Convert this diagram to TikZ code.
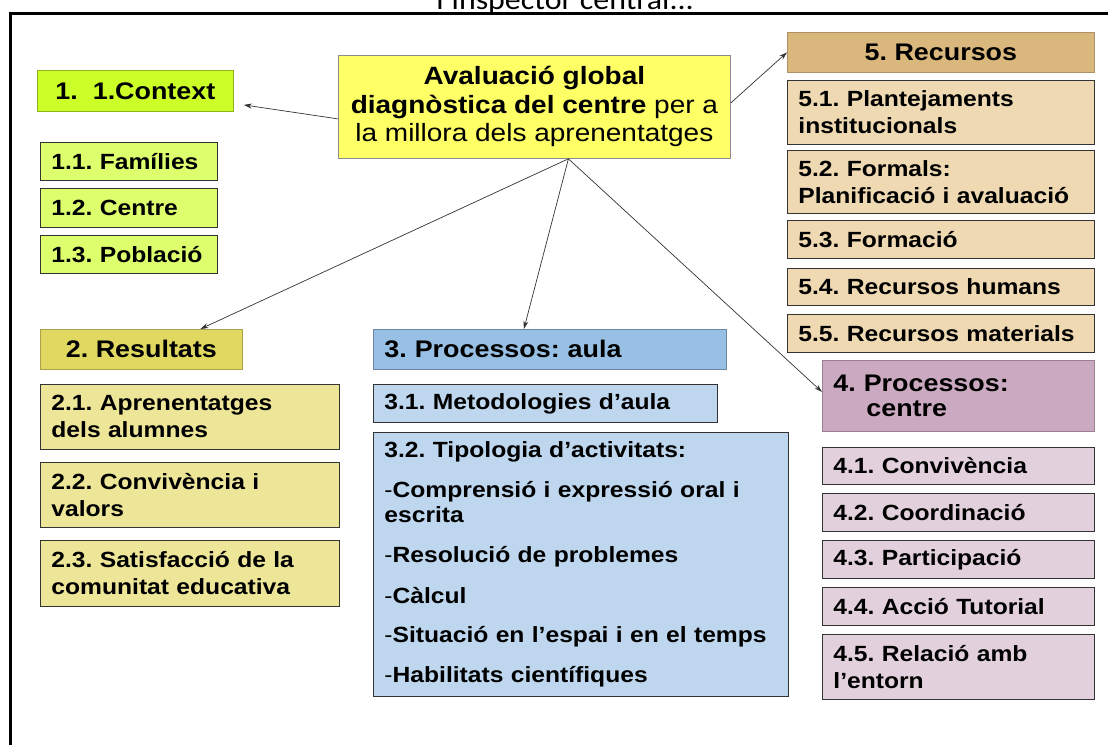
\documentclass[tikz,border=0pt]{standalone}
\usepackage{fontspec}
\setmainfont[FakeStretch=1.12]{Liberation Sans}
\newfontfamily\topfont[FakeStretch=1.1]{Carlito}
\usetikzlibrary{arrows.meta}
\frenchspacing

\definecolor{ctxhead}{RGB}{204,255,40}
\definecolor{ctxsub}{RGB}{221,255,110}
\definecolor{mainfill}{RGB}{255,255,102}
\definecolor{rechead}{RGB}{217,183,125}
\definecolor{recsub}{RGB}{238,217,178}
\definecolor{reshead}{RGB}{224,216,96}
\definecolor{ressub}{RGB}{237,230,152}
\definecolor{aulahead}{RGB}{152,192,228}
\definecolor{aulasub}{RGB}{190,215,238}
\definecolor{cenhead}{RGB}{203,170,193}
\definecolor{censub}{RGB}{226,209,220}

\tikzstyle{box}=[rectangle, anchor=north west, draw=black!80, line width=0.8pt
,inner xsep=11pt, inner ysep=0pt, align=left
,font=\bfseries\fontsize{22}{27}\selectfont
]
\tikzstyle{head box}=[box, align=center, font=\bfseries\fontsize{24}{27}\selectfont]
\tikzstyle{ctx box} = [box, fill=ctxsub, text width=155pt]
\tikzstyle{res box} = [box, fill=ressub, text width=277pt]
\tikzstyle{rec box} = [box, fill=recsub, text width=285pt]
\tikzstyle{cen box} = [box, fill=censub, text width=250pt]
\tikzstyle{aula box} = [box, fill=aulasub]
\tikzstyle{edge} = [draw, line width=0.7pt, black!80, -{Stealth[length=8pt,width=5pt]}]

\begin{document}
\begin{tikzpicture}[x=1pt,y=-1pt]
    \useasboundingbox (0,0) rectangle (1108,745);
    % frame and clipped title
    \begin{scope}
        \clip (0,0) rectangle (1108,12);
        \node[font=\topfont\fontsize{29}{29}\selectfont, anchor=base] (title) at (565,9) {l’inspector central...};
    \end{scope}
    \draw[line width=3pt] (10.5,745) -- (10.5,13.5) -- (1108,13.5);

    % central box
    \node[box, fill=mainfill, draw=black!45, align=center, minimum width=392pt, minimum height=103pt
        ,font=\fontsize{25}{28.5}\selectfont] (central) at (338,55)
        {\textbf{Avaluació global}\\ \textbf{diagnòstica del centre} per a\\ la millora dels aprenentatges};

    % headers
    \node[head box, fill=ctxhead, draw=ctxhead!70!black, minimum width=196pt, minimum height=41pt] (ctx) at (37,70) {1.\ \ 1.Context};
    \node[head box, fill=rechead, draw=rechead!80!black, minimum width=307pt, minimum height=40pt] (rec) at (787,32) {5. Recursos};
    \node[head box, fill=reshead, draw=reshead!75!black, minimum width=202pt, minimum height=40pt] (res) at (40,329) {2. Resultats};
    \node[box, fill=aulahead, draw=aulahead!70!black, text width=331pt, minimum height=40pt
        ,font=\bfseries\fontsize{24}{27}\selectfont] (aula) at (373,329) {3. Processos: aula};
    \node[box, fill=cenhead, draw=cenhead!75!black, text width=250pt, minimum height=71pt
        ,font=\bfseries\fontsize{24}{25}\selectfont] (cen) at (822,360) {4. Processos:\\ \hspace*{33pt}centre};

    % sub boxes
    \foreach \pos/\name/\h/\txt in {{(40,142)/ctx1/38/1.1. Famílies}, {(40,188)/ctx2/39/1.2. Centre}, {(40,235)/ctx3/38/1.3. Població}}
        \node[ctx box, minimum height=\h pt] (\name) at \pos {\txt};
    \foreach \pos/\name/\h/\txt in {{(40,384)/res1/65/2.1. Aprenentatges\\dels alumnes}, {(40,462)/res2/65/2.2. Convivència i\\valors}, {(40,540)/res3/66/2.3. Satisfacció de la\\comunitat educativa}}
        \node[res box, minimum height=\h pt] (\name) at \pos {\txt};
    \foreach \pos/\name/\h/\txt in {{(787,80)/rec1/64/5.1. Plantejaments\\institucionals}, {(787,150)/rec2/63/5.2. Formals:\\Planificació i avaluació}, {(787,220)/rec3/38/5.3. Formació}, {(787,268)/rec4/37/5.4. Recursos humans}, {(787,314)/rec5/38/5.5. Recursos materials}}
        \node[rec box, minimum height=\h pt] (\name) at \pos {\txt};
    \foreach \pos/\name/\h/\txt in {{(822,447)/cen1/37/4.1. Convivència}, {(822,493)/cen2/38/4.2. Coordinació}, {(822,540)/cen3/38/4.3. Participació}, {(822,587)/cen4/38/4.4. Acció Tutorial}, {(822,634)/cen5/65/4.5. Relació amb\\l’entorn}}
        \node[cen box, minimum height=\h pt] (\name) at \pos {\txt};

    \node[aula box, text width=322pt, minimum height=38pt] (aula1) at (373,384) {3.1. Metodologies d’aula};
    \node[aula box, text width=393pt, minimum height=264pt, font=\bfseries\fontsize{22}{25}\selectfont] (aula2) at (373,432)
        {3.2. Tipologia d’activitats:\\[15pt]
         {\mdseries -}Comprensió i expressió oral i\\escrita\\[15pt]
         {\mdseries -}Resolució de problemes\\[16pt]
         {\mdseries -}Càlcul\\[14pt]
         {\mdseries -}Situació en l’espai i en el temps\\[15pt]
         {\mdseries -}Habilitats científiques};

    % Connect the central box with the headers
    \coordinate (hub) at ([xshift=34pt]central.south);
    \path[edge] ([yshift=-12pt]central.west) -- ([xshift=10pt,yshift=-14pt]ctx.east);
    \path[edge] ([yshift=4pt]central.east) -- (rec.west);
    \path[edge] (hub) -- ([xshift=59pt]res.north);
    \path[edge] (hub) -- ([xshift=-26pt]aula.north);
    \path[edge] (hub) -- ([yshift=4pt]cen.west);
\end{tikzpicture}
\end{document}
